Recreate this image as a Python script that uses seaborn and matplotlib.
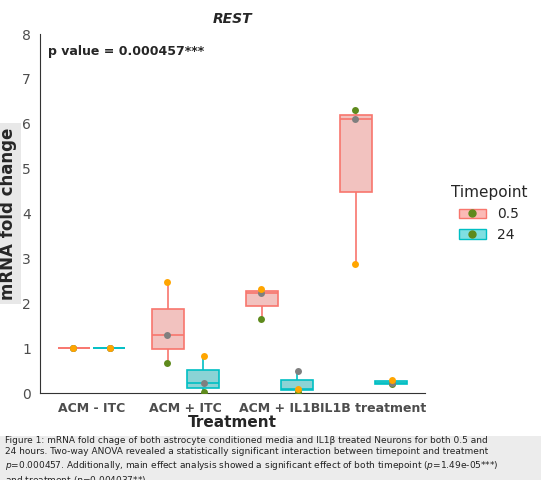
import numpy as np
import pandas as pd
import matplotlib.pyplot as plt
import seaborn as sns
from matplotlib.patches import Patch, Rectangle
from matplotlib.lines import Line2D

treatments = ["ACM - ITC", "ACM + ITC", "ACM + IL1B", "IL1B treatment"]
timepoints = ["0.5", "24"]
# replicate values per treatment (order: green, grey, orange)
rep_green_05 = [1.0, 0.68, 1.65, 6.30]
rep_grey_05 = [1.0, 1.30, 2.22, 6.10]
rep_orange_05 = [1.0, 2.47, 2.33, 2.87]
rep_green_24 = [1.0, 0.02, 0.02, 0.20]
rep_grey_24 = [1.0, 0.22, 0.50, 0.22]
rep_orange_24 = [1.0, 0.83, 0.10, 0.30]

rows = []
for rep, v05, v24 in [("green", rep_green_05, rep_green_24),
                      ("grey", rep_grey_05, rep_grey_24),
                      ("orange", rep_orange_05, rep_orange_24)]:
    for t, a, b in zip(treatments, v05, v24):
        rows.append((t, "0.5", rep, a))
        rows.append((t, "24", rep, b))
df = pd.DataFrame(rows, columns=["Treatment", "Timepoint", "Rep", "fold"])

line_cols = {"0.5": "#F8766D", "24": "#00BFC4"}
fill_cols = {"0.5": "#FBBAB6", "24": "#7FDFE1"}
rep_cols = {"green": "#5E8A1C", "grey": "#7F7F7F", "orange": "#FFA500"}

sns.set_style("white")
fig = plt.figure(figsize=(5.41, 4.8), dpi=100)
ax = fig.add_axes([0.074, 0.181, 0.712, 0.748])

sns.boxplot(data=df, x="Treatment", y="fold", hue="Timepoint",
            order=treatments, hue_order=timepoints, palette=fill_cols,
            linewidth=1.2, whis=10, width=0.75, gap=0.1, showcaps=False,
            showfliers=False, legend=False, ax=ax)


def side(xs):
    m = np.mean(xs)
    return "0.5" if m - np.round(m) < 0 else "24"


for p in ax.patches:
    p.set_edgecolor(line_cols[side(p.get_path().vertices[:, 0])])
for ln in ax.lines:
    ln.set_color(line_cols[side(ln.get_xdata())])

for rep in rep_cols:
    sns.stripplot(data=df[df.Rep == rep], x="Treatment", y="fold", hue="Timepoint",
                  order=treatments, hue_order=timepoints,
                  palette={"0.5": rep_cols[rep], "24": rep_cols[rep]},
                  dodge=True, jitter=False, size=5, legend=False, ax=ax, zorder=5)

ax.set_ylim(0, 8)
ax.set_xlim(-0.55, 3.55)
ax.set_yticks(range(0, 9))
ax.tick_params(axis="both", length=3, color="#333333", labelsize=9, labelcolor="#4d4d4d")
for lab in ax.get_xticklabels():
    lab.set_fontweight("bold")
for lab in ax.get_yticklabels():
    lab.set_fontsize(10)
for s in ["top", "right"]:
    ax.spines[s].set_visible(False)
for s in ["left", "bottom"]:
    ax.spines[s].set_color("#333333")
ax.set_title("REST", fontsize=10, fontweight="bold", style="italic", pad=8)
ax.set_xlabel("Treatment", fontsize=11, fontweight="bold", labelpad=0)
ax.set_ylabel("mRNA fold change", fontsize=12, fontweight="bold", labelpad=4,
              bbox=dict(facecolor="#e8e8e8", edgecolor="none", pad=3))
ax.text(0.02, 0.97, "p value = 0.000457***", transform=ax.transAxes,
        fontsize=9, fontweight="bold", va="top")

handles = [(Patch(facecolor=fill_cols[tp], edgecolor=line_cols[tp]),
            Line2D([], [], marker="o", color=rep_cols["green"], linestyle="none", markersize=5))
           for tp in timepoints]
fig.legend(handles, timepoints, title="Timepoint", loc="upper left",
           bbox_to_anchor=(0.81, 0.64), frameon=False, fontsize=10, title_fontsize=11)

fig.patches.append(Rectangle((0, 0), 1, 0.092, transform=fig.transFigure,
                             facecolor="#ececec", edgecolor="none", zorder=0))
caption = ("Figure 1: mRNA fold chage of both astrocyte conditioned media and IL1\u03b2 treated Neurons for both 0.5 and\n"
           "24 hours. Two-way ANOVA revealed a statistically significant interaction between timepoint and treatment\n"
           "$p$=0.000457. Additionally, main effect analysis showed a significant effect of both timepoint ($p$=1.49e-05***)\n"
           "and treatment ($p$=0.004037**)")
fig.text(0.01, 0.092, caption, fontsize=6.5, va="top", color="#222222", linespacing=1.3)

fig.savefig("out.png", dpi=100)
